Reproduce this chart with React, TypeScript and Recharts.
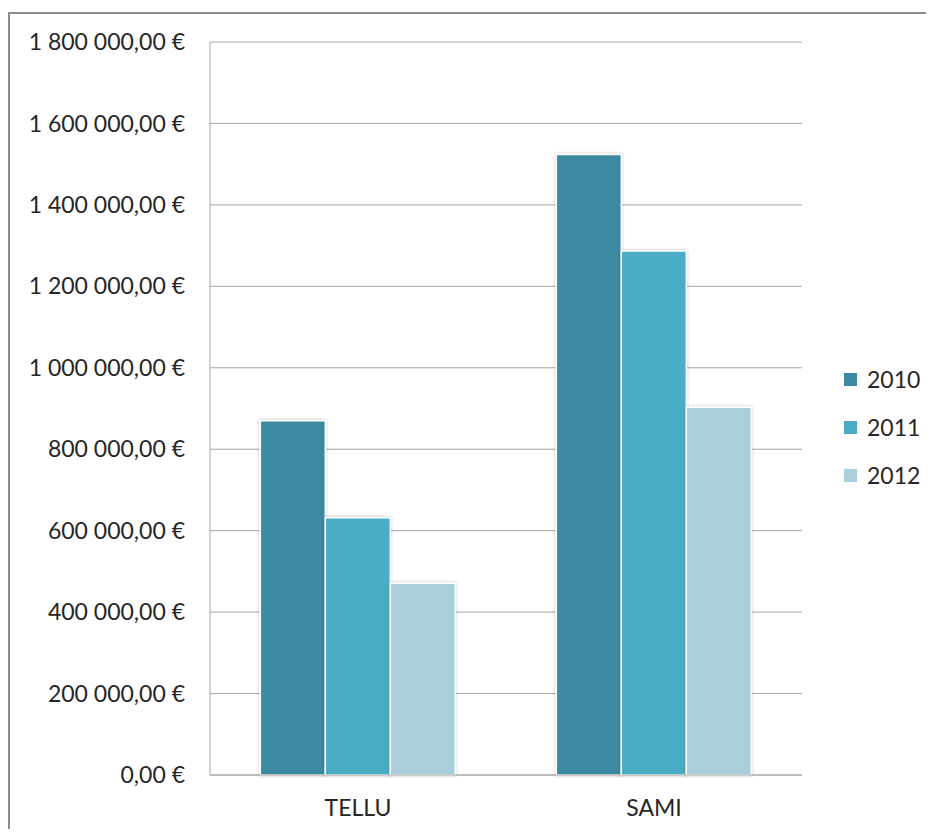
import React from "react";
import {
  BarChart,
  Bar,
  XAxis,
  YAxis,
  CartesianGrid,
  Legend,
} from "recharts";

// Sales per seller and year
const sellers = ["TELLU", "SAMI"];
const sales2010 = [870000, 1524000];
const sales2011 = [632000, 1287000];
const sales2012 = [471000, 903000];
const yTicks = [0, 200000, 400000, 600000, 800000, 1000000, 1200000, 1400000, 1600000, 1800000];

const years = [
  { key: "y2010", name: "2010", color: "#3B8AA1" },
  { key: "y2011", name: "2011", color: "#4BACC6" },
  { key: "y2012", name: "2012", color: "#A9CFDD" },
];

const data = sellers.map((name, i) => ({
  name,
  y2010: sales2010[i],
  y2011: sales2011[i],
  y2012: sales2012[i],
}));

const FONT = "Lato, 'Noto Sans', sans-serif";
const FONT_SIZE = 23;
const GRID = "#A6A6A6";
const TEXT = "#262626";
const LEGEND_W = 120;

// "1 800 000,00 €"
const formatEuro = (v: number) => {
  const whole = Math.round(v)
    .toString()
    .replace(/\B(?=(\d{3})+(?!\d))/g, " ");
  return `${whole},00 €`;
};

const YearLegend = () => (
  <div style={{ width: LEGEND_W, paddingLeft: 42, boxSizing: "border-box", fontFamily: FONT }}>
    {years.map((y) => (
      <div key={y.key} style={{ height: 48, display: "flex", alignItems: "center" }}>
        <span
          style={{ width: 13, height: 13, flexShrink: 0, background: y.color, display: "inline-block" }}
        />
        <span style={{ marginLeft: 10, fontSize: FONT_SIZE, color: TEXT, whiteSpace: "nowrap" }}>
          {y.name}
        </span>
      </div>
    ))}
  </div>
);

export default function App() {
  return (
    <div
      style={{
        marginTop: 4,
        width: 924,
        height: 815,
        borderTop: "2px solid #8C8C8C",
        borderLeft: "2px solid #8C8C8C",
        background: "#fff",
      }}
    >
      <BarChart
        width={924}
        height={815}
        data={data}
        margin={{ top: 28, right: 12, bottom: 14, left: 0 }}
        barCategoryGap="17%"
        barGap={0}
      >
        <defs>
          <filter id="barShadow" x="-10%" y="-10%" width="120%" height="120%">
            <feDropShadow dx="0" dy="0" stdDeviation="1.4" floodColor="#000" floodOpacity="0.3" />
          </filter>
        </defs>
        <CartesianGrid vertical={false} stroke={GRID} strokeWidth={1} />
        <XAxis
          dataKey="name"
          height={40}
          tickLine={false}
          tickSize={0}
          tickMargin={25}
          axisLine={{ stroke: GRID }}
          tick={{ fill: TEXT, fontSize: FONT_SIZE, fontFamily: FONT }}
        />
        <YAxis
          width={200}
          domain={[0, 1800000]}
          ticks={yTicks}
          interval={0}
          tickFormatter={formatEuro}
          tickLine={false}
          tickSize={0}
          tickMargin={25}
          axisLine={{ stroke: GRID }}
          tick={{ fill: TEXT, fontSize: FONT_SIZE, fontFamily: FONT }}
        />
        <Legend
          layout="vertical"
          align="right"
          verticalAlign="middle"
          width={LEGEND_W}
          wrapperStyle={{ top: 341, right: 12 }}
          content={<YearLegend />}
        />
        {years.map((y) => (
          <Bar
            key={y.key}
            dataKey={y.key}
            name={y.name}
            fill={y.color}
            stroke="#FFFFFF"
            strokeWidth={1.5}
            filter="url(#barShadow)"
            isAnimationActive={false}
          />
        ))}
      </BarChart>
    </div>
  );
}
